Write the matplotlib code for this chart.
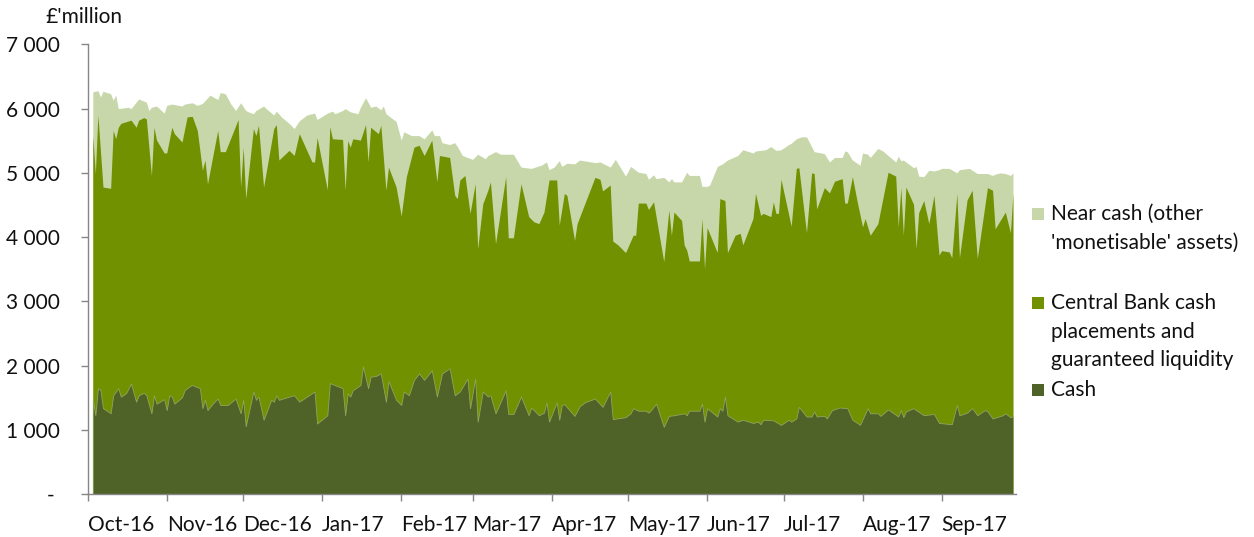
import numpy as np
import matplotlib
matplotlib.use("Agg")
import matplotlib.pyplot as plt
from matplotlib.patches import Rectangle

# ---------------- data (£ million, business days counted from 1 Oct 2016) ----------------
start_date = np.datetime64("2016-10-01")

# Top of the stack: cash + central bank + near cash
total_days = [2, 4, 5, 6, 9, 10, 11, 12, 16, 17, 20, 23, 24, 25, 27, 30, 31, 33, 37, 38, 41, 43, 45, 48,
              51, 52, 54, 56, 58, 60, 62, 63, 65, 66, 69, 70, 73, 74, 76, 79, 81, 83, 86, 89, 90, 94, 96,
              97, 100, 101, 103, 106, 107, 109, 111, 113, 115, 116, 117, 121, 123, 124, 127, 130, 132,
              135, 136, 138, 139, 142, 144, 145, 147, 151, 153, 156, 157, 160, 162, 167, 170, 174, 178,
              180, 181, 183, 185, 186, 188, 191, 193, 199, 201, 203, 205, 207, 209, 211, 213, 216, 219,
              220, 222, 223, 226, 228, 229, 230, 233, 235, 236, 240, 241, 243, 244, 247, 249, 251, 255,
              257, 261, 262, 266, 268, 270, 272, 275, 276, 278, 280, 282, 285, 289, 291, 293, 296, 297,
              298, 300, 303, 304, 306, 307, 310, 312, 314, 317, 318, 319, 320, 324, 325, 326, 328, 330,
              332, 334, 335, 338, 341, 342, 346, 347, 349, 353, 355, 356, 358, 360, 362, 363]
total_liquidity = [6260, 6280, 6180, 6270, 6230, 6130, 6210, 6000, 6020, 6000, 6150, 6100, 5970, 6020,
                   6040, 5930, 6050, 6070, 6040, 6070, 6090, 6050, 6080, 6210, 6140, 6250, 6230, 6080,
                   5970, 6090, 5970, 5950, 5920, 5970, 6040, 6000, 5900, 5960, 5870, 5770, 5690, 5810,
                   5900, 5930, 5830, 5930, 5960, 5920, 5970, 6000, 5950, 5920, 6020, 6170, 6020, 6040,
                   5980, 6040, 5920, 5800, 5510, 5640, 5580, 5580, 5530, 5670, 5580, 5580, 5470, 5440,
                   5470, 5410, 5270, 5210, 5290, 5220, 5270, 5330, 5290, 5290, 5090, 5070, 5120, 5170,
                   5050, 5090, 5190, 5100, 5150, 5140, 5200, 5160, 5170, 5130, 5090, 5210, 5080, 4950,
                   5100, 5010, 4990, 4900, 4970, 4910, 4930, 4860, 4910, 4860, 4860, 5010, 4960, 4960,
                   4790, 4790, 4810, 5100, 5140, 5200, 5270, 5360, 5310, 5340, 5360, 5410, 5350, 5360,
                   5440, 5460, 5530, 5560, 5560, 5330, 5300, 5170, 5240, 5240, 5340, 5330, 5200, 5120,
                   5310, 5290, 5240, 5380, 5340, 5270, 5170, 5260, 5190, 5200, 5080, 5100, 4950, 4940,
                   5040, 5030, 5050, 5070, 5070, 5000, 5050, 5070, 5040, 4990, 4990, 4960, 4980, 5000,
                   4990, 4960, 5000]

# Cash + central bank cash placements and guaranteed liquidity
cb_days = [2, 3, 4, 6, 9, 10, 11, 12, 13, 17, 19, 20, 22, 23, 25, 26, 27, 30, 31, 33, 34, 37, 39, 41, 43,
           45, 46, 47, 51, 52, 54, 59, 60, 61, 62, 65, 66, 67, 69, 73, 74, 75, 79, 81, 83, 88, 89, 90, 94,
           95, 96, 100, 101, 102, 103, 104, 107, 109, 110, 111, 114, 115, 117, 118, 121, 123, 125, 128,
           130, 132, 135, 137, 138, 142, 144, 145, 146, 148, 150, 152, 153, 155, 157, 158, 160, 164, 165,
           167, 170, 173, 175, 177, 179, 181, 183, 184, 185, 187, 188, 191, 192, 199, 201, 202, 205, 206,
           208, 211, 214, 215, 216, 219, 220, 222, 226, 228, 229, 230, 233, 234, 235, 236, 240, 241, 242,
           243, 247, 248, 250, 251, 254, 256, 257, 261, 262, 264, 265, 268, 269, 270, 271, 272, 276, 278,
           279, 282, 284, 285, 286, 289, 291, 293, 296, 297, 298, 300, 302, 304, 305, 307, 310, 314, 317,
           318, 319, 320, 321, 324, 325, 326, 328, 330, 332, 334, 335, 338, 339, 341, 342, 345, 347, 349,
           353, 355, 356, 360, 362, 363]
cash_plus_central_bank = [5580, 4990, 5900, 4780, 4760, 5660, 5530, 5710, 5770, 5820, 5710, 5820, 5860,
                          5840, 4960, 5710, 5510, 5310, 5310, 5710, 5610, 5480, 5870, 5880, 5660, 5040,
                          5200, 4830, 5660, 5330, 5330, 5830, 4780, 5400, 4600, 5690, 5580, 5740, 4780,
                          5690, 5750, 5200, 5350, 5270, 5610, 5170, 5170, 5550, 4740, 5720, 5530, 5520,
                          4730, 5500, 5400, 5530, 5510, 5750, 5170, 5710, 5610, 5740, 4730, 5090, 4780,
                          4330, 4940, 5400, 5430, 5270, 5510, 4860, 5270, 5240, 4650, 4600, 4890, 4960,
                          4370, 4830, 3820, 4520, 4730, 4860, 3900, 4940, 3990, 3990, 4830, 4320, 4240,
                          4210, 4390, 4890, 4890, 4890, 4190, 4680, 4650, 3950, 4210, 4930, 4900, 4720,
                          4810, 3940, 3880, 3760, 4030, 4030, 4530, 4530, 4430, 4550, 3620, 4420, 4030,
                          4390, 4260, 3880, 3800, 3630, 3630, 4290, 3510, 4150, 3760, 4600, 4570, 3760,
                          4030, 4060, 3880, 4290, 4680, 4340, 4370, 4320, 4550, 4370, 4370, 4900, 4170,
                          5070, 5080, 4070, 5000, 4990, 4440, 4770, 4690, 4870, 4910, 4530, 4530, 4940,
                          4530, 4160, 4290, 4030, 4210, 5010, 4950, 4160, 4770, 4030, 4780, 4510, 3820,
                          4380, 4570, 4210, 4650, 3720, 3790, 3770, 3680, 4680, 3680, 4580, 4730, 3670,
                          4770, 4730, 4130, 4390, 4070, 4680]

# Cash
cash_days = [2, 3, 4, 5, 6, 9, 10, 12, 13, 15, 17, 19, 20, 22, 23, 25, 26, 27, 30, 31, 32, 33, 34, 37, 38,
             40, 41, 44, 45, 46, 47, 49, 51, 52, 55, 58, 60, 61, 62, 65, 66, 67, 69, 72, 73, 74, 75, 80, 81,
             83, 89, 90, 94, 95, 100, 101, 102, 103, 104, 107, 108, 110, 111, 113, 115, 117, 118, 121, 123,
             124, 126, 128, 130, 132, 135, 137, 139, 142, 144, 146, 149, 150, 152, 153, 155, 157, 158, 160,
             164, 165, 167, 170, 173, 174, 177, 179, 180, 181, 184, 185, 186, 187, 191, 193, 195, 199, 202,
             205, 206, 211, 213, 214, 216, 219, 220, 221, 223, 226, 228, 230, 234, 235, 236, 240, 241, 242,
             243, 247, 248, 249, 250, 251, 255, 257, 261, 263, 264, 265, 269, 272, 275, 276, 278, 279, 282,
             284, 285, 286, 289, 290, 292, 295, 298, 300, 303, 306, 307, 310, 311, 314, 318, 319, 320, 321,
             324, 325, 328, 332, 334, 339, 341, 342, 345, 347, 349, 352, 353, 355, 359, 360, 362, 363]
cash = [1470, 1230, 1650, 1620, 1340, 1260, 1540, 1650, 1520, 1570, 1720, 1440, 1540, 1580, 1540, 1260,
        1540, 1410, 1480, 1310, 1540, 1520, 1410, 1510, 1620, 1680, 1700, 1650, 1340, 1470, 1310, 1410,
        1490, 1390, 1390, 1490, 1260, 1470, 1060, 1600, 1470, 1520, 1160, 1470, 1440, 1540, 1470, 1530,
        1540, 1440, 1600, 1100, 1230, 1730, 1650, 1230, 1570, 1520, 1620, 1700, 1990, 1650, 1830, 1840,
        1880, 1440, 1760, 1470, 1390, 1600, 1540, 1780, 1880, 1780, 1930, 1520, 1880, 1960, 1540, 1600,
        1800, 1340, 1800, 1130, 1600, 1520, 1540, 1260, 1620, 1250, 1250, 1520, 1230, 1350, 1230, 1270,
        1430, 1130, 1430, 1160, 1390, 1400, 1220, 1370, 1430, 1490, 1360, 1600, 1170, 1200, 1260, 1340,
        1300, 1300, 1270, 1310, 1410, 1050, 1220, 1230, 1260, 1230, 1300, 1300, 1410, 1130, 1340, 1210,
        1340, 1300, 1520, 1230, 1130, 1160, 1110, 1130, 1090, 1160, 1150, 1080, 1160, 1130, 1180, 1360,
        1210, 1210, 1290, 1210, 1220, 1180, 1310, 1350, 1340, 1160, 1080, 1340, 1260, 1260, 1220, 1320,
        1210, 1310, 1200, 1290, 1340, 1310, 1230, 1250, 1110, 1090, 1390, 1230, 1270, 1340, 1230, 1310,
        1290, 1180, 1230, 1260, 1200, 1210]

month_labels = ["Oct-16", "Nov-16", "Dec-16", "Jan-17", "Feb-17", "Mar-17", "Apr-17", "May-17",
                "Jun-17", "Jul-17", "Aug-17", "Sep-17"]
y_values = [0, 1000, 2000, 3000, 4000, 5000, 6000, 7000]
y_labels = ["- ", "1 000", "2 000", "3 000", "4 000", "5 000", "6 000", "7 000"]
legend_labels = ["Near cash (other\n'monetisable' assets)",
                 "Central Bank cash\nplacements and\nguaranteed liquidity",
                 "Cash"]

# ---------------- style ----------------
LIGHT = "#C7D7A9"
MID = "#729100"
DARK = "#4F6228"
AXIS = "#868686"
FONT = ["Lato", "DejaVu Sans"]
FS = 15.0

plt.rcParams["font.family"] = FONT

W, H = 1254, 537
fig = plt.figure(figsize=(W / 100, H / 100), dpi=100)
ax = fig.add_axes([87.7 / W, (H - 494.3) / H, (1015.5 - 87.7) / W, 450 / H])

def to_dates(days):
    return start_date + np.array(days).astype("timedelta64[D]")

ax.fill_between(to_dates(total_days), 0, total_liquidity, color=LIGHT, lw=0)
ax.fill_between(to_dates(cb_days), 0, cash_plus_central_bank, color=MID, lw=0)
ax.fill_between(to_dates(cash_days), 0, cash, color=DARK, edgecolor="#8FA65E", lw=0.6)

ax.set_xlim(start_date, np.datetime64("2017-09-30"))
ax.set_ylim(0, 7000)

month_starts = np.arange("2016-10", "2017-10", dtype="datetime64[M]").astype("datetime64[D]")
ax.set_xticks(month_starts, labels=month_labels, ha="left", fontsize=FS)
ax.set_yticks(y_values, labels=y_labels, fontsize=FS)
ax.tick_params(axis="x", length=5, width=1, color=AXIS, pad=10, labelcolor="#111111")
ax.tick_params(axis="y", length=5, width=1, color=AXIS, pad=15, labelcolor="#111111")

for s in ["top", "right"]:
    ax.spines[s].set_visible(False)
for s in ["left", "bottom"]:
    ax.spines[s].set_color(AXIS)
    ax.spines[s].set_linewidth(1)

fig.text(45 / W, 1 - 17 / H, "£'million", ha="left", va="center", fontsize=FS, color="#111111")

# legend
legend_colors = [LIGHT, MID, DARK]
legend_y = [214, 303, 390]
line_step = 28.5
for lab, col, yc in zip(legend_labels, legend_colors, legend_y):
    fig.add_artist(Rectangle((1032 / W, 1 - (yc + 6) / H), 12 / W, 12 / H,
                             transform=fig.transFigure, color=col, lw=0))
    for i, line in enumerate(lab.split("\n")):
        fig.text(1051 / W, 1 - (yc + i * line_step) / H, line, ha="left", va="center",
                 fontsize=FS, color="#111111")

fig.savefig("out.png", dpi=100)
